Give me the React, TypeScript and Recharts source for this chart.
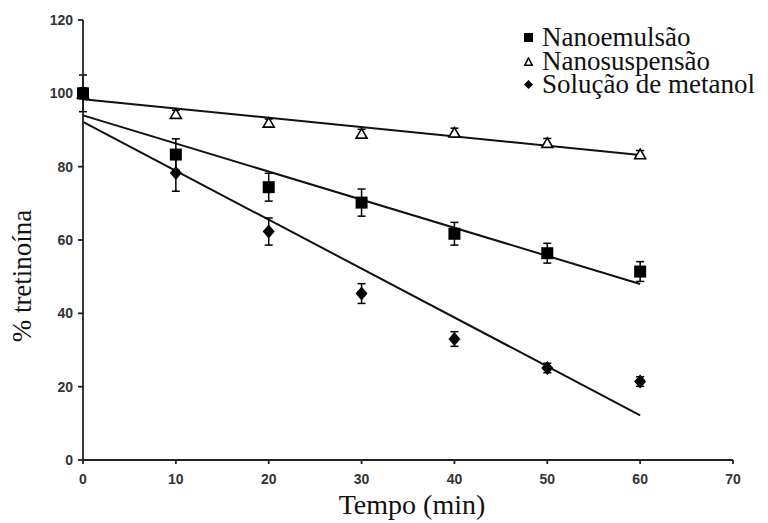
import React from 'react';
import { ComposedChart, Scatter, Line, XAxis, YAxis, ErrorBar, Label } from 'recharts';

// tempo (min)
const tempo = [0, 10, 20, 30, 40, 50, 60];

// % tretinoína, médias e desvios
const nanoemulsao = [100, 83.3, 74.4, 70.2, 61.7, 56.4, 51.4];
const nanoemulsaoErro = [1.5, 4.3, 3.8, 3.7, 3.1, 2.7, 2.7];
const nanosuspensao = [100, 94.4, 92, 89, 89.3, 86.5, 83.4];
const nanosuspensaoErro = [5, 1, 1, 1.2, 1.2, 1.2, 1];
const metanol = [100, 78.3, 62.3, 45.4, 33, 25.1, 21.4];
const metanolErro = [0.5, 5, 3.7, 2.7, 2, 1.3, 1.3];

// retas de regressão (início e fim)
const ajusteTempo = [0, 60];
const ajusteNanoemulsao = [94, 48];
const ajusteNanosuspensao = [98.4, 83.2];
const ajusteMetanol = [92.2, 12.2];

const xTicks = [0, 10, 20, 30, 40, 50, 60, 70];
const yTicks = [0, 20, 40, 60, 80, 100, 120];

const pontos = (vals: number[], erros: number[]) =>
  tempo.map((t, i) => ({ x: t, y: vals[i], err: erros[i] }));
const reta = (vals: number[]) => ajusteTempo.map((t, i) => ({ x: t, y: vals[i] }));

const Quadrado = (p: any) => (
  <rect x={p.cx - 6} y={p.cy - 6} width={12} height={12} fill="#000" />
);
const Triangulo = (p: any) => (
  <polygon
    points={`${p.cx},${p.cy - 5} ${p.cx - 5.5},${p.cy + 4.5} ${p.cx + 5.5},${p.cy + 4.5}`}
    fill="#fff"
    stroke="#000"
    strokeWidth={1.6}
  />
);
const Losango = (p: any) => (
  <polygon
    points={`${p.cx},${p.cy - 7} ${p.cx + 6},${p.cy} ${p.cx},${p.cy + 7} ${p.cx - 6},${p.cy}`}
    fill="#000"
  />
);

const serif = '"Liberation Serif", "Times New Roman", serif';
const tickStyle = { fontFamily: '"Liberation Sans", Arial, sans-serif', fontSize: 14, fontWeight: 700, fill: '#333' };

const itensLegenda = [
  { nome: 'Nanoemulsão', m: <rect x={0} y={0} width={9} height={9} fill="#000" /> },
  { nome: 'Nanosuspensão', m: <polygon points="4.5,0.8 0.8,8.2 8.2,8.2" fill="#fff" stroke="#000" strokeWidth={1.5} /> },
  { nome: 'Solução de metanol', m: <polygon points="4.5,0 9,4.5 4.5,9 0,4.5" fill="#000" /> },
];

const Legenda = () => (
  <div
    style={{
      position: 'absolute',
      left: 524,
      top: 26,
      fontFamily: serif,
      fontSize: 27,
      lineHeight: '23.5px',
      color: '#111',
    }}
  >
    {itensLegenda.map((e) => (
      <div key={e.nome} style={{ display: 'flex', alignItems: 'center', whiteSpace: 'nowrap' }}>
        <svg width={9} height={9} style={{ marginRight: 9 }}>{e.m}</svg>
        <span>{e.nome}</span>
      </div>
    ))}
  </div>
);

export default function App() {
  return (
    <div style={{ position: 'absolute', left: 0, top: 0, width: 768, height: 523, background: '#fff' }}>
      <ComposedChart width={768} height={523} margin={{ top: 20, right: 35, bottom: 33, left: 0 }}>
        <XAxis
          type="number"
          dataKey="x"
          domain={[0, 70]}
          ticks={xTicks}
          tickSize={4}
          tickMargin={10}
          tick={tickStyle}
          stroke="#222"
          strokeWidth={1.8}
          height={30}
        >
          <Label
            content={({ viewBox }: any) => (
              <text x={viewBox.x + viewBox.width / 2 + 4} y={514} textAnchor="middle" fontFamily={serif} fontSize={28} fill="#111">
                Tempo (min)
              </text>
            )}
          />
        </XAxis>
        <YAxis
          type="number"
          dataKey="y"
          domain={[0, 120]}
          ticks={yTicks}
          tickSize={5}
          tickMargin={5}
          tick={tickStyle}
          stroke="#222"
          strokeWidth={1.8}
          width={83}
        >
          <Label
            content={() => (
              <text x={31} y={276} transform="rotate(-90 31 276)" textAnchor="middle" fontFamily={serif} fontSize={27} fill="#111">
                % tretinoína
              </text>
            )}
          />
        </YAxis>
        <Line data={reta(ajusteNanosuspensao)} dataKey="y" stroke="#111" strokeWidth={2} dot={false} isAnimationActive={false} />
        <Line data={reta(ajusteNanoemulsao)} dataKey="y" stroke="#111" strokeWidth={2} dot={false} isAnimationActive={false} />
        <Line data={reta(ajusteMetanol)} dataKey="y" stroke="#111" strokeWidth={2} dot={false} isAnimationActive={false} />
        <Scatter data={pontos(nanosuspensao, nanosuspensaoErro)} shape={Triangulo} isAnimationActive={false}>
          <ErrorBar dataKey="err" direction="y" width={4} stroke="#000" strokeWidth={1.5} />
        </Scatter>
        <Scatter data={pontos(metanol, metanolErro)} shape={Losango} isAnimationActive={false}>
          <ErrorBar dataKey="err" direction="y" width={4} stroke="#000" strokeWidth={1.5} />
        </Scatter>
        <Scatter data={pontos(nanoemulsao, nanoemulsaoErro)} shape={Quadrado} isAnimationActive={false}>
          <ErrorBar dataKey="err" direction="y" width={4} stroke="#000" strokeWidth={1.5} />
        </Scatter>
      </ComposedChart>
      <Legenda />
    </div>
  );
}
